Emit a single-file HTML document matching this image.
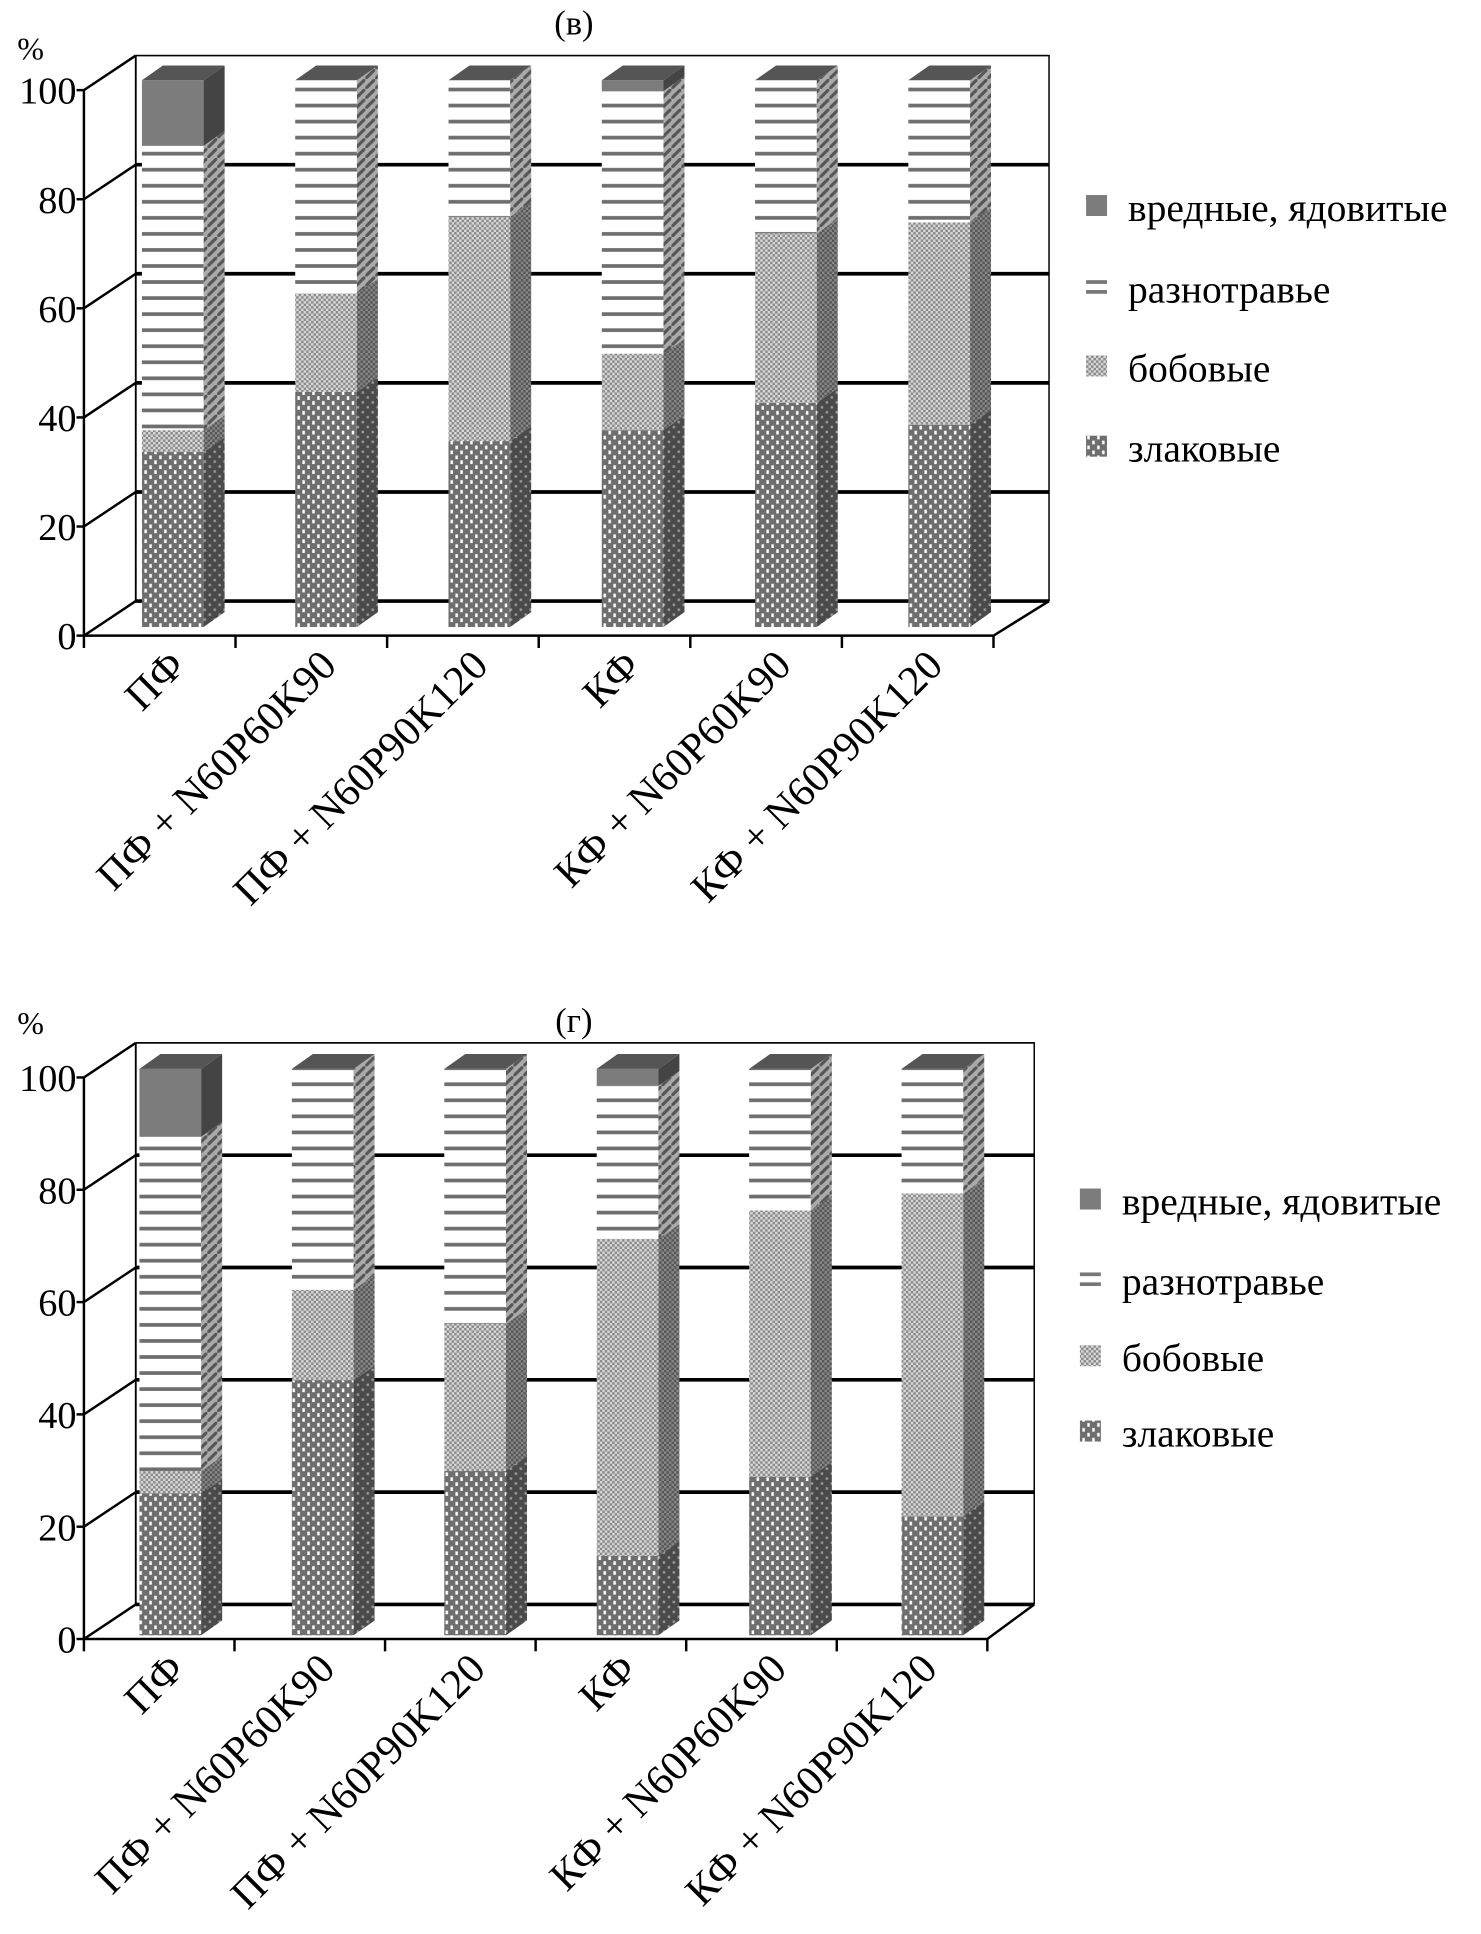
<!DOCTYPE html>
<html><head><meta charset="utf-8"><style>html,body{margin:0;padding:0;background:#fff}svg{display:block}</style></head>
<body>
<svg id="chart" width="1481" height="1934" viewBox="0 0 1200 1567" xmlns="http://www.w3.org/2000/svg" font-family="'Liberation Serif', serif">
<defs>
<pattern id="pDots" width="8" height="8" patternUnits="userSpaceOnUse"><rect width="8" height="8" fill="#6e6e6e"/><rect x="1" y="1" width="2" height="3" fill="#fff"/><rect x="5" y="5" width="2" height="3" fill="#fff"/></pattern>
<pattern id="pDotsS" width="8" height="8" patternUnits="userSpaceOnUse"><rect width="8" height="8" fill="#4a4a4a"/><rect x="1" y="1" width="2" height="2" fill="#999"/><rect x="5" y="5" width="2" height="2" fill="#999"/></pattern>
<pattern id="pCheck" width="4" height="4" patternUnits="userSpaceOnUse"><rect width="4" height="4" fill="#d8d8d8"/><rect width="2" height="2" fill="#8a8a8a"/><rect x="2" y="2" width="2" height="2" fill="#8a8a8a"/></pattern>
<pattern id="pCheckS" width="4" height="4" patternUnits="userSpaceOnUse"><rect width="4" height="4" fill="#888"/><rect width="2" height="2" fill="#555"/><rect x="2" y="2" width="2" height="2" fill="#555"/></pattern>
<pattern id="pStripe" width="8" height="13" patternUnits="userSpaceOnUse"><rect width="8" height="13" fill="#fff"/><rect y="6" width="8" height="3" fill="#6e6e6e"/></pattern>
<pattern id="pStripeS" width="8" height="8" patternUnits="userSpaceOnUse"><rect width="8" height="8" fill="#aaa"/><path d="M-2,10 L10,-2" stroke="#555" stroke-width="2.5"/></pattern>
</defs>
<g id="root"></g>
</svg>
<script>
const categories = ["ПФ","ПФ + N60P60K90","ПФ + N60P90K120","КФ","КФ + N60P60K90","КФ + N60P90K120"];
const seriesNames = ["злаковые","бобовые","разнотравье","вредные, ядовитые"];
const yTicks = [0,20,40,60,80,100];
// chart (в)
const vZlak = [32,43,34,36,41,37];
const vBob = [4,18,41,14,31,37];
const vRazn = [52,39,25,48,28,26];
const vVred = [12,0,0,2,0,0];
// chart (г)
const gZlak = [25,45,29,14,28,21];
const gBob = [4,16,26,56,47,57];
const gRazn = [59,39,45,27,25,22];
const gVred = [12,0,0,3,0,0];

const NS="http://www.w3.org/2000/svg";
const root=document.getElementById('root');
function mk(tag,attrs,parent){const e=document.createElementNS(NS,tag);for(const k in attrs)e.setAttribute(k,attrs[k]);(parent||root).appendChild(e);return e;}
const fronts=["url(#pDots)","url(#pCheck)","url(#pStripe)","#7c7c7c"];
const sides=["url(#pDotsS)","url(#pCheckS)","url(#pStripeS)","#444"];

function drawChart(cfg, series, title){
  const g=mk('g',{});
  
  
  const {ax,y0,unit,bdx,bdy,right,backRight,barY0,barUnit,barX0,barStep,barW,ddx,ddy}=cfg;
  const fy=v=>y0-v*unit;
  const by=v=>y0+bdy-v*unit;
  mk('path',{d:`M${ax+bdx},${by(100)} L${ax+bdx},${by(0)}`,stroke:'#000','stroke-width':1.5},g);
  mk('path',{d:`M${ax+bdx},${by(100)} L${backRight},${by(100)} L${backRight},${by(0)}`,stroke:'#000','stroke-width':1.2,fill:'none'},g);
  yTicks.forEach(t=>{
    const gl=mk('line',{x1:ax+bdx,y1:by(t),x2:backRight,y2:by(t),stroke:'#000','stroke-width':t===100?1.2:3},g);
    
    
    mk('line',{x1:ax,y1:fy(t),x2:ax+bdx,y2:by(t),stroke:'#000','stroke-width':2},g);
    mk('line',{x1:ax-6,y1:fy(t),x2:ax,y2:fy(t),stroke:'#000','stroke-width':2},g);
    const tl=mk('text',{x:ax-6,y:fy(t)+11,'text-anchor':'end','font-size':31},g);
    tl.textContent=t;
    
    
  });
  mk('path',{d:`M${ax},${y0} L${right},${y0} L${backRight},${by(0)}`,stroke:'#000','stroke-width':2,fill:'none'},g);
  mk('line',{x1:ax,y1:fy(0),x2:ax,y2:fy(100),stroke:'#000','stroke-width':2},g);
  const catW=(right-ax)/categories.length;
  for(let i=0;i<=categories.length;i++){mk('line',{x1:ax+i*catW,y1:y0,x2:ax+i*catW,y2:y0+10,stroke:'#000','stroke-width':2},g);}
  categories.forEach((c,i)=>{
    const x=barX0+i*barStep;
    const bg=mk('g',{},g);
    
    
    let cum=0;let topY=barY0;
    series.forEach((s,k)=>{
      const v=s[i]; if(v<=0) return;
      const yb=barY0-cum*barUnit, yt=barY0-(cum+v)*barUnit;
      const r=mk('rect',{x:x,y:yt,width:barW,height:yb-yt,fill:fronts[k]},bg);
      
      
      mk('path',{d:`M${x+barW},${yb} L${x+barW+ddx},${yb-ddy} L${x+barW+ddx},${yt-ddy} L${x+barW},${yt}Z`,fill:sides[k]},bg);
      cum+=v; topY=yt;
    });
    mk('path',{d:`M${x},${topY} L${x+ddx},${topY-ddy} L${x+barW+ddx},${topY-ddy} L${x+barW},${topY}Z`,fill:'#555'},bg);
    const cx=ax+(i+0.5)*catW+22;
    const cy=y0+26;
    const lab=mk('text',{x:cx,y:cy,'text-anchor':'end','font-size':34,transform:`rotate(-45 ${cx} ${cy})`},g);
    lab.textContent=c;
    
    
  });
  const tt=mk('text',{x:cfg.titleX,y:cfg.titleY,'text-anchor':'middle','font-size':28},g);tt.textContent='('+title+')';
  
  
  const pc=mk('text',{x:14,y:cfg.pctY,'font-size':26},g);pc.textContent='%';
  
  
  const lfill=["url(#pDots)","url(#pCheck)",null,"#7c7c7c"];
  const order=[3,2,1,0];
  order.forEach((k,j)=>{
    const ly=cfg.legY[j];
    const lg=mk('g',{},g);
    
    
    if(k===2){mk('rect',{x:cfg.legX,y:ly-9,width:17,height:3,fill:'#777'},lg);mk('rect',{x:cfg.legX,y:ly-1,width:17,height:3,fill:'#777'},lg);}
    else mk('rect',{x:cfg.legX,y:ly-12,width:17,height:17,fill:lfill[k]},lg);
    const t=mk('text',{x:cfg.legX+34,y:ly+9,'font-size':32},lg);t.textContent=seriesNames[k];
  });
}
drawChart({ax:68,y0:515,unit:4.42,bdx:42,bdy:-28,right:805,backRight:850,barY0:508,barUnit:4.43,barX0:115,barStep:124.2,barW:50,ddx:17,ddy:12,titleX:465,titleY:28,pctY:48,legX:880,legY:[170,236,300,365]},[vZlak,vBob,vRazn,vVred],'в');
drawChart({ax:68,y0:1328,unit:4.55,bdx:42,bdy:-28,right:800,backRight:838,barY0:1325,barUnit:4.59,barX0:113,barStep:123.5,barW:50,ddx:17,ddy:12,titleX:465,titleY:836,pctY:838,legX:875,legY:[975,1040,1102,1163]},[gZlak,gBob,gRazn,gVred],'г');
</script>
</body></html>
